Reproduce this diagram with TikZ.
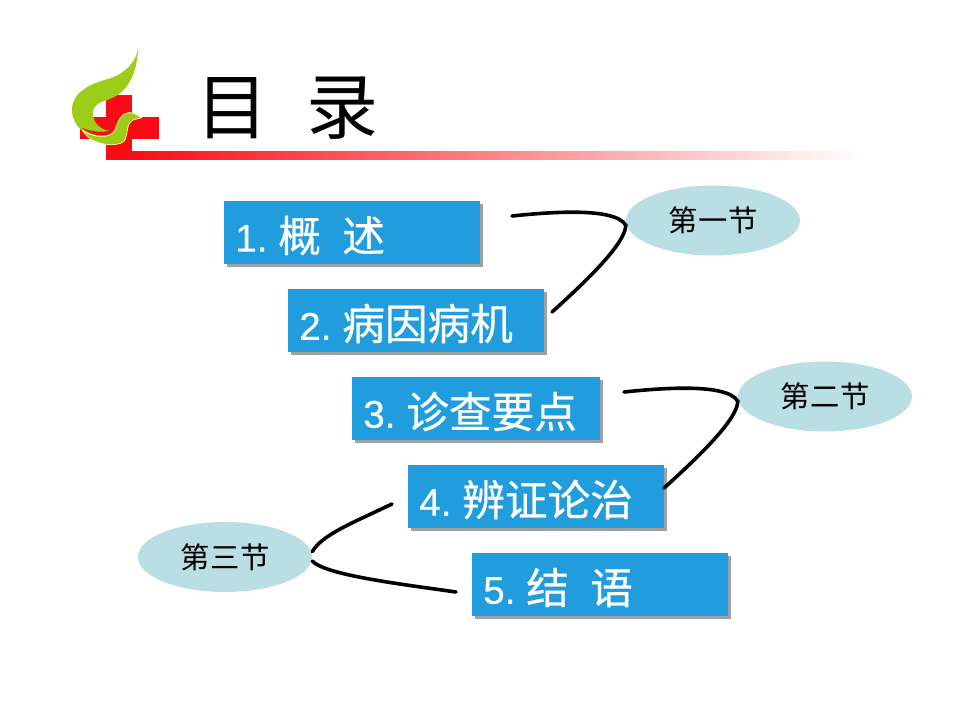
\documentclass[tikz,border=0pt]{standalone}
\usepackage{fontspec}
\setmainfont{Liberation Sans}
\newfontfamily\cjk{Noto Sans CJK SC}
\newfontfamily\cjkb[FakeBold=0.5]{Noto Sans CJK SC}
\newfontfamily\numf[FakeBold=0.3]{Liberation Sans}
\usetikzlibrary{shapes.geometric,shadings}
\definecolor{boxblue}{RGB}{33,157,222}
\definecolor{shadowgray}{RGB}{160,160,165}
\definecolor{ovalblue}{RGB}{185,222,228}
\definecolor{crossred}{RGB}{250,10,20}
\definecolor{leafgreen}{RGB}{155,205,25}
\tikzset{
  x=0.75pt,y=-0.75pt,
  itemshadow/.style={fill=shadowgray,draw=none},
  oval/.style={ellipse,fill=ovalblue,draw=none,minimum width=130.5pt,minimum height=52.5pt,inner sep=0pt,
     font=\cjk\fontsize{22}{22}\selectfont},
  linkline/.style={draw=black,line width=2.7pt,line cap=round}
}
\newcommand{\itemrow}[7]{%
  \fill[itemshadow] (#2+3,#3+3) rectangle (#4+3,#5+3);
  \fill[boxblue] (#2,#3) rectangle (#4,#5);
  \node[anchor=west,text=white,inner sep=0pt,font=\numf\fontsize{29}{29}\selectfont] (#1) at (#2+11,{(#3+#5)/2+3}) {\makebox[32.25pt][l]{#6}{\cjkb\fontsize{32}{32}\selectfont #7}};
}
\newcommand{\sect}[3]{#1\hspace{#3}#2}
\begin{document}
\begin{tikzpicture}
\useasboundingbox (0,0) rectangle (960,720);
\fill[white] (0,0) rectangle (960,720);
% cross
\fill[crossred] (106,95) rectangle (132,160);
\fill[crossred] (80,117) rectangle (159,139);
% gradient rule
\shade[left color=crossred,right color=white,shading angle=90] (125,152) rectangle (860,160);
% leaf
\fill[leafgreen] (138.3,48.3) .. controls (136,62) and (125,74) .. (108,79)
  .. controls (90,84) and (72,92) .. (72,110)
  .. controls (72,128) and (92,143) .. (115,145)
  -- (112,131) .. controls (103,131) and (93,125) .. (93,113)
  .. controls (93,105) and (100,102) .. (107,100)
  .. controls (125,94) and (136,80) .. (138.3,48.3) -- cycle;
% red crescent
\fill[crossred] (82,128) .. controls (93,137) and (108,138) .. (117,130)
  -- (112,130) .. controls (103,133) and (93,132) .. (82,128) -- cycle;
% dove
\filldraw[fill=leafgreen,draw=white!65!yellow,line width=0.5pt] (83,131)
  .. controls (95,138) and (110,139) .. (115,130)
  .. controls (118,120) and (122,113) .. (129,112.5)
  .. controls (135,113) and (138,116) .. (141.7,117.7)
  -- (133,120) .. controls (127,122) and (128,132) .. (125,140)
  .. controls (122,145) and (110,146) .. (100,143)
  .. controls (90,140) and (85,135) .. (83,131) -- cycle;
% title
\node[inner sep=0pt,anchor=west,font=\cjk\fontsize{54}{54}\selectfont] (title) at (196,108) {目\hspace{0.53em}录};
% boxes
\itemrow{b1}{224}{201}{480}{264}{1.}{概\hspace{0.5em}述}
\itemrow{b2}{288}{289}{544}{352}{2.}{病因病机}
\itemrow{b3}{352}{377}{600}{440}{3.}{诊查要点}
\itemrow{b4}{408}{465}{664}{528}{4.}{辨证论治}
\itemrow{b5}{472}{553}{728}{616}{5.}{结\hspace{0.5em}语}
% ovals
\node[oval] (s1) at (713,220.5) {第\hspace{0.03em}一\hspace{0.03em}节};
\node[oval] (s2) at (825,396.5) {第\hspace{0.03em}二\hspace{0.03em}节};
\node[oval] (s3) at (225,557) {第\hspace{0.03em}三\hspace{0.03em}节};
% connector ends
\coordinate (a1) at (512,216);
\coordinate (a2) at (552,312);
\coordinate (a3) at (624,392);
\coordinate (a4) at (664,488);
\coordinate (a5) at (392,504);
\coordinate (a6) at (456,592);
\draw[linkline] (a1) .. controls (550,212) and (615,207) .. ([yshift=-3.5pt]s1.west)
  .. controls (626,242) and (590,278) .. (a2);
\draw[linkline] (a3) .. controls (662,388) and (727,383) .. ([yshift=-3.5pt]s2.west)
  .. controls (738,418) and (702,454) .. (a4);
\draw[linkline] (a5) .. controls (350,524) and (322,535) .. ([yshift=4pt]s3.east);
\draw[linkline] ([yshift=-3pt]s3.east) .. controls (325,575) and (400,584) .. (a6);
\end{tikzpicture}
\end{document}
